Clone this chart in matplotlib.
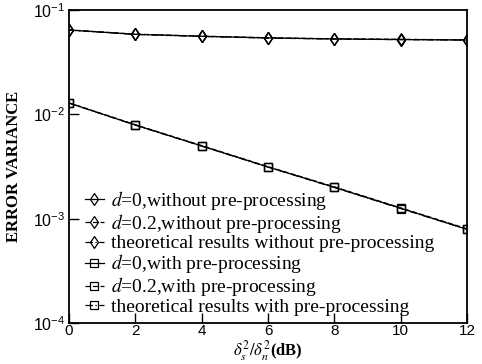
import numpy as np
import matplotlib
matplotlib.use('Agg')
import matplotlib.pyplot as plt

plt.rcParams['mathtext.fontset'] = 'stix'

# данные
snr_db = [0, 2, 4, 6, 8, 10, 12]

wo_d0 = [0.0643, 0.0585, 0.0560, 0.0540, 0.0528, 0.0521, 0.0516]
wo_d02 = [0.0645, 0.0587, 0.0562, 0.0542, 0.0530, 0.0524, 0.0517]
wo_theory = [0.0641, 0.0583, 0.0558, 0.0538, 0.0527, 0.0520, 0.0515]

w_d0 = [0.01285, 0.00790, 0.00498, 0.00313, 0.00200, 0.00126, 0.00079]
w_d02 = [0.01290, 0.00795, 0.00502, 0.00315, 0.00202, 0.00127, 0.00080]
w_theory = [0.01280, 0.00788, 0.00496, 0.00312, 0.00199, 0.00125, 0.00079]

labels = [
    '$d$=0,without pre-processing',
    '$d$=0.2,without pre-processing',
    'theoretical results without pre-processing',
    '$d$=0,with pre-processing',
    '$d$=0.2,with pre-processing',
    'theoretical results with pre-processing',
]

xticks = [0, 2, 4, 6, 8, 10, 12]
yticks = [1e-4, 1e-3, 1e-2, 1e-1]
ytick_labels = [r'$\mathregular{10^{-4}}$', r'$\mathregular{10^{-3}}$',
                r'$\mathregular{10^{-2}}$', r'$\mathregular{10^{-1}}$']

# -----------------------------------------------------------------

fig = plt.figure(figsize=(4.82, 3.64), dpi=100)
ax = fig.add_axes([0.1432, 0.1126, 0.8257, 0.8599])

series = [wo_d0, wo_d02, wo_theory, w_d0, w_d02, w_theory]
markers = ['d', 'd', 'd', 's', 's', 's']
styles = ['-', (0, (4, 2)), (0, (6, 2, 1, 2)), '-', (0, (4, 2)), (0, (6, 2, 1, 2))]

for y, m, ls, lab in zip(series, markers, styles, labels):
    ax.plot(snr_db, y, color='black', linestyle=ls, linewidth=0.9,
            marker=m, markersize=6, markerfacecolor='none',
            markeredgecolor='black', markeredgewidth=0.9, label=lab)

ax.set_yscale('log')
ax.set_xlim(0, 12)
ax.set_ylim(1e-4, 1e-1)
ax.set_xticks(xticks)
ax.set_yticks(yticks)
ax.set_yticklabels(ytick_labels)
ax.yaxis.set_minor_locator(matplotlib.ticker.NullLocator())
ax.tick_params(direction='in', length=7, width=1, labelsize=11.5, pad=3)
ax.tick_params(axis='x', labelsize=11, pad=1)
for t in ax.get_xticklabels() + ax.get_yticklabels():
    t.set_fontfamily('Liberation Sans')
for s in ax.spines.values():
    s.set_linewidth(1.3)

ax.set_ylabel('ERROR VARIANCE', fontfamily='Liberation Serif',
              fontsize=12, fontweight='bold')
ax.yaxis.set_label_coords(-0.118, 0.5)

# подпись оси x прижата к нижнему краю, как в оригинале
fig.text(0.556, 0.002, r'$\delta_s^{2}/\delta_n^{2}$(dB)',
         fontfamily='Liberation Serif', fontweight='bold', fontsize=12,
         ha='center', va='bottom')

leg = ax.legend(loc='lower left', bbox_to_anchor=(0.01, -0.015), frameon=False,
                prop={'family': 'Liberation Serif', 'size': 14},
                handlelength=1.0, handletextpad=0.35, labelspacing=0.0,
                borderaxespad=0.2)

fig.savefig('out.png', dpi=100)
